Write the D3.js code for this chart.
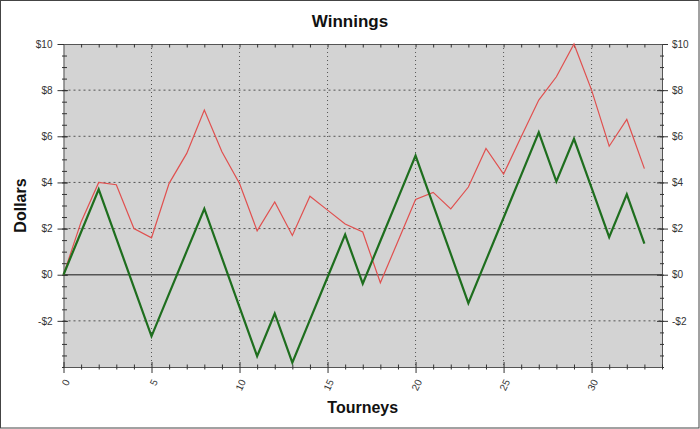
<!DOCTYPE html>
<html><head><meta charset="utf-8">
<script src="https://cdn.jsdelivr.net/npm/d3@7"></script>
<style>body{margin:0;background:#fff}svg{display:block}text{font-family:"Liberation Sans",Arial,sans-serif}</style>
</head><body><svg id="c" width="700" height="429"></svg>
<script>
const tourneys = d3.range(0, 34);
const redSeries = [0, 2.29, 4.0, 3.9, 2.0, 1.6, 3.96, 5.26, 7.14, 5.33, 3.95, 1.9, 3.15, 1.7, 3.4, 2.8, 2.2, 1.85, -0.35, 1.45, 3.26, 3.57, 2.85, 3.8, 5.47, 4.36, 5.98, 7.57, 8.58, 10.0, 8.0, 5.57, 6.73, 4.6];
const greenSeries = [0, 1.85, 3.70, 1.58, -0.55, -2.67, -0.82, 1.02, 2.86, 0.73, -1.40, -3.53, -1.68, -3.81, -1.96, -0.11, 1.74, -0.39, 1.46, 3.31, 5.16, 3.03, 0.90, -1.23, 0.62, 2.47, 4.32, 6.17, 4.04, 5.89, 3.76, 1.63, 3.48, 1.35];
const xMajorTicks = [0, 5, 10, 15, 20, 25, 30];
const yMajorTicks = [-2, 0, 2, 4, 6, 8, 10];
const yTickLabels = ["-$2", "$0", "$2", "$4", "$6", "$8", "$10"];
const xMinorTicks = d3.range(0, 35);
const yMinorTicks = d3.range(-4, 10.01, 0.5);

const svg = d3.select("#c");
const L = 63.5, R = 662, T = 44, B = 367;
const x = d3.scaleLinear().domain([0, 34]).range([L, R]);
const y = d3.scaleLinear().domain([-4, 10]).range([B, T]);

svg.append("rect").attr("x", 0.5).attr("y", 0.5).attr("width", 698.5).attr("height", 427.5)
  .attr("fill", "#fff").attr("stroke", "#444");
svg.append("rect").attr("x", L).attr("y", T).attr("width", R - L).attr("height", B - T).attr("fill", "#d3d3d3");

// grid
svg.append("g").selectAll("line").data(yMajorTicks.filter(d => d !== 0 && d !== 10)).join("line")
  .attr("x1", L).attr("x2", R).attr("y1", d => y(d)).attr("y2", d => y(d))
  .attr("stroke", "#555").attr("stroke-dasharray", "2,3");
svg.append("g").selectAll("line").data(xMajorTicks.filter(d => d !== 0)).join("line")
  .attr("x1", d => x(d)).attr("x2", d => x(d)).attr("y1", T).attr("y2", B)
  .attr("stroke", "#555").attr("stroke-dasharray", "1,3");
svg.append("line").attr("x1", L).attr("x2", R).attr("y1", y(0)).attr("y2", y(0))
  .attr("stroke", "#555").attr("stroke-width", 1.5);

function styleAxis(g) {
  g.select(".domain").attr("stroke", "#555");
  g.selectAll(".tick line").attr("stroke", "#333");
  g.selectAll(".tick text").attr("fill", "#333").attr("font-size", 10).attr("font-family", "Liberation Sans, Arial, sans-serif");
}
// left axis
const gl = svg.append("g").attr("transform", `translate(${L},0)`);
gl.call(d3.axisLeft(y).tickValues(yMinorTicks).tickSize(2).tickFormat("").tickSizeOuter(0));
gl.selectAll(".tick line").attr("x2", 3.5).attr("x1", -1.5);
const glm = svg.append("g").attr("transform", `translate(${L},0)`);
glm.call(d3.axisLeft(y).tickValues(yMajorTicks).tickSize(6).tickPadding(5).tickSizeOuter(0).tickFormat((d, i) => yTickLabels[i]));
glm.selectAll(".tick line").attr("x1", 4.5);
glm.select(".domain").remove();
styleAxis(gl); styleAxis(glm);
// right axis
const gr = svg.append("g").attr("transform", `translate(${R},0)`);
gr.call(d3.axisRight(y).tickValues(yMinorTicks).tickSize(2).tickFormat("").tickSizeOuter(0));
gr.selectAll(".tick line").attr("x2", 2).attr("x1", -2);
const grm = svg.append("g").attr("transform", `translate(${R},0)`);
grm.call(d3.axisRight(y).tickValues(yMajorTicks).tickSize(6).tickPadding(4).tickSizeOuter(0).tickFormat((d, i) => yTickLabels[i]));
grm.selectAll(".tick line").attr("x1", -5);
grm.select(".domain").remove();
styleAxis(gr); styleAxis(grm);
// top axis
const gt = svg.append("g").attr("transform", `translate(0,${T})`);
gt.call(d3.axisTop(x).tickValues(xMinorTicks.filter(d => d > 0 && d < 34)).tickSize(0).tickFormat("").tickSizeOuter(0));
gt.selectAll(".tick line").attr("y1", 0).attr("y2", 3.5);
styleAxis(gt);
// bottom axis
const gb = svg.append("g").attr("transform", `translate(0,${B})`);
gb.call(d3.axisBottom(x).tickValues(xMinorTicks.filter(d => d % 5 !== 0)).tickSize(2.5).tickFormat("").tickSizeOuter(0));
gb.selectAll(".tick line").attr("y1", -2.5);
const gbm = svg.append("g").attr("transform", `translate(0,${B})`);
gbm.call(d3.axisBottom(x).tickValues(xMajorTicks).tickSize(6).tickSizeOuter(0).tickFormat(d3.format("d")));
gbm.selectAll(".tick line").attr("y1", -5);
gbm.select(".domain").remove();
styleAxis(gb); styleAxis(gbm);
gbm.selectAll(".tick text").attr("text-anchor", "end").attr("dy", "0.35em")
  .attr("transform", "translate(3,13) rotate(-65)").attr("x", 0).attr("y", 0);

// lines
const line = d3.line().x((d, i) => x(tourneys[i])).y(d => y(d));
svg.append("path").datum(redSeries).attr("d", line).attr("fill", "none")
  .attr("stroke", "#e0504f").attr("stroke-width", 1.2);
svg.append("path").datum(greenSeries).attr("d", line).attr("fill", "none")
  .attr("stroke", "#1e6e1e").attr("stroke-width", 2.2).attr("stroke-linejoin", "miter");

// titles
svg.append("text").attr("x", 350).attr("y", 27).attr("text-anchor", "middle")
  .attr("font-size", 17).attr("font-weight", "bold").attr("fill", "#111").text("Winnings");
svg.append("text").attr("transform", `translate(26,${(T + B) / 2}) rotate(-90)`).attr("text-anchor", "middle")
  .attr("font-size", 16).attr("font-weight", "bold").attr("fill", "#111").text("Dollars");
svg.append("text").attr("x", (L + R) / 2).attr("y", 413).attr("text-anchor", "middle")
  .attr("font-size", 16).attr("font-weight", "bold").attr("fill", "#111").text("Tourneys");
</script></body></html>
